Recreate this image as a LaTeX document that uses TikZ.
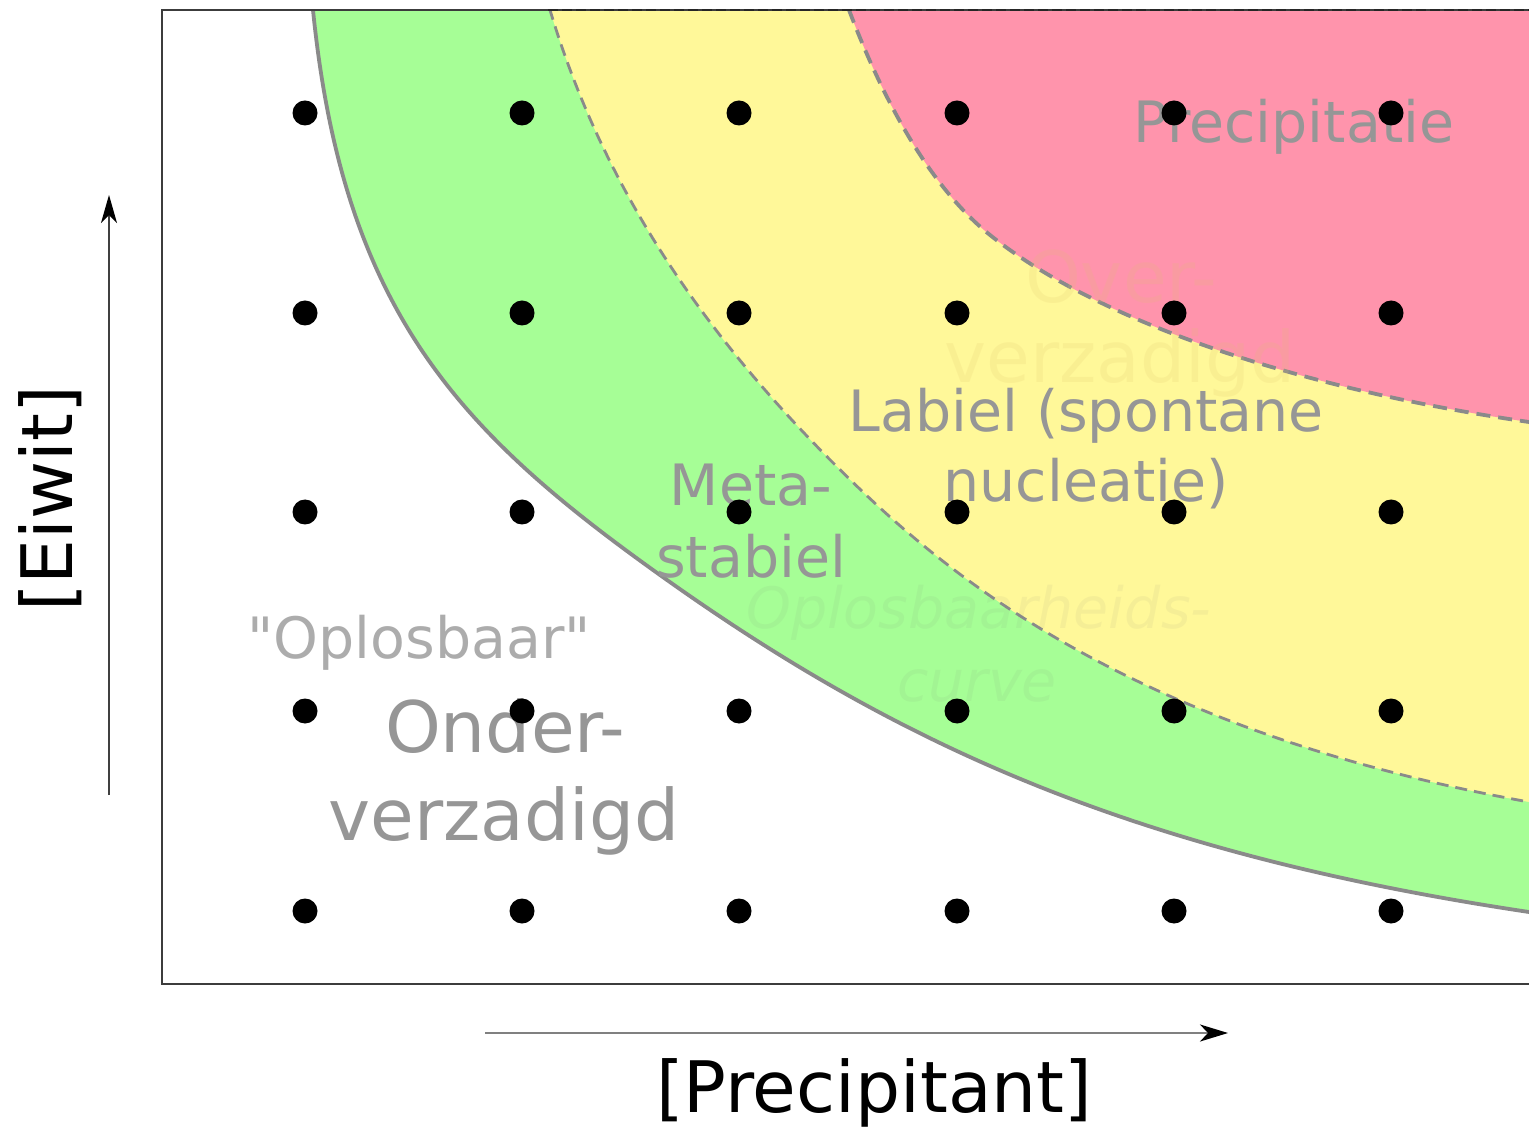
\documentclass[tikz,border=0pt]{standalone}
\usepackage{fontspec}
\setmainfont{DejaVu Sans}[Ligatures=TeXOff]
\usetikzlibrary{arrows.meta}
\definecolor{regGreen}{RGB}{166,254,150}
\definecolor{regYellow}{RGB}{255,248,153}
\definecolor{regPink}{RGB}{255,148,172}
\definecolor{curveGray}{RGB}{138,138,138}
\definecolor{txtGray}{RGB}{150,150,150}
\definecolor{txtLight}{RGB}{172,172,172}
\definecolor{faintBeige}{RGB}{225,195,110}
\definecolor{frameGray}{RGB}{60,60,60}
\begin{document}
\begin{tikzpicture}[x=0.5pt,y=-0.5pt,
  pdot/.style={circle, fill=black, inner sep=0pt, minimum size=12.5pt},
  lbl/.style={inner sep=0pt, anchor=base, text=txtGray, font=\fontsize{28.5pt}{34pt}\selectfont},
  biglbl/.style={inner sep=0pt, anchor=base, text=txtGray, font=\fontsize{35.5pt}{43pt}\selectfont},
  faintA/.style={text=faintBeige, text opacity=0.17},
  faintB/.style={text=black!55, text opacity=0.07, font=\fontsize{28.5pt}{34pt}\selectfont\itshape},
  axlbl/.style={inner sep=0pt, anchor=base, text=black, font=\fontsize{35.5pt}{43pt}\selectfont},
  solidcurve/.style={draw=curveGray, line width=1.9pt},
  dashcurveA/.style={draw=curveGray, line width=1.4pt, dash pattern=on 6pt off 3.5pt},
  dashcurveB/.style={draw=curveGray, line width=1.9pt, dash pattern=on 7pt off 4pt},
  axisarrowY/.style={draw=black!75, line width=0.85pt, -{Stealth[length=14pt,width=8pt,inset=4pt,color=black]}},
  axisarrowX/.style={draw=black!50, line width=1.15pt, -{Stealth[length=14pt,width=8.5pt,inset=4pt,color=black]}}]
\useasboundingbox (0,0) rectangle (1529,1127);
\fill[white] (0,0) rectangle (1529,1127);

% regions
\begin{scope}
\clip (162,10) rectangle (1529,984);
\path[fill=regGreen, solidcurve] (311,-10) -- (313,10)
  .. controls (343,308.5) and (458,430) .. (653,570)
  .. controls (896.6,745.2) and (1133.4,852.8) .. (1529,912)
  -- (1560,917) -- (1600,917) -- (1600,-40) -- cycle;
\path[fill=regYellow, dashcurveA] (544,-10) -- (550,10)
  .. controls (607.4,201.6) and (719,355.2) .. (864,493)
  .. controls (994.5,617) and (1184.6,740) .. (1529,802)
  -- (1560,808) -- (1600,808) -- (1600,-40) -- cycle;
\path[fill=regPink, dashcurveB] (841,-11) -- (849,10)
  .. controls (888,112.9) and (935.3,191.25) .. (990,235)
  .. controls (1091.5,316.25) and (1281.6,386.1) .. (1529,422)
  -- (1560,426.5) -- (1600,427) -- (1600,-40) -- cycle;
\end{scope}

% frame
\draw[frameGray, line width=1pt] (1529,10) -- (162,10) -- (162,984) -- (1529,984);
\draw[black!85, line width=1.2pt, dash pattern=on 5pt off 2pt] (548,10) -- (1529,10);

% region labels
\node[lbl] (prec) at (1294,143) {Precipitatie};
\node[biglbl, faintA] (over1) at (1121,303) {Over-};
\node[biglbl, faintA] (over2) at (1120,383) {verzadigd};
\node[lbl] (lab1) at (1086,432) {Labiel (spontane};
\node[lbl] (lab2) at (1086,502) {nucleatie)};
\node[lbl] (meta1) at (751,506) {Meta-};
\node[lbl] (meta2) at (751,577) {stabiel};
\node[lbl, faintB] (opl1) at (979,628) {Oplosbaarheids-};
\node[lbl, faintB] (opl2) at (977,701) {curve};
\node[lbl, text=txtLight] (oplb) at (419,658) {"Oplosbaar"};
\node[biglbl] (ond1) at (505,752) {Onder-};
\node[biglbl] (ond2) at (504,840) {verzadigd};

% dots
\foreach \i/\x in {1/305,2/522,3/739,4/957,5/1174,6/1391}
  \foreach \j/\y in {1/113,2/313,3/512,4/711,5/911}
    \node[pdot] (d\i\j) at (\x,\y) {};

% axes
\coordinate (ya0) at (109,795);
\coordinate (ya1) at (109,195);
\draw[axisarrowY] (ya0) -- (ya1);
\coordinate (xa0) at (485,1033);
\coordinate (xa1) at (1228,1033);
\draw[axisarrowX] (xa0) -- (xa1);
\node[axlbl] (xl) at (874,1112) {[Precipitant]};
\node[axlbl, rotate=90] (yl) at (72,499) {[Eiwit]};
\end{tikzpicture}
\end{document}
